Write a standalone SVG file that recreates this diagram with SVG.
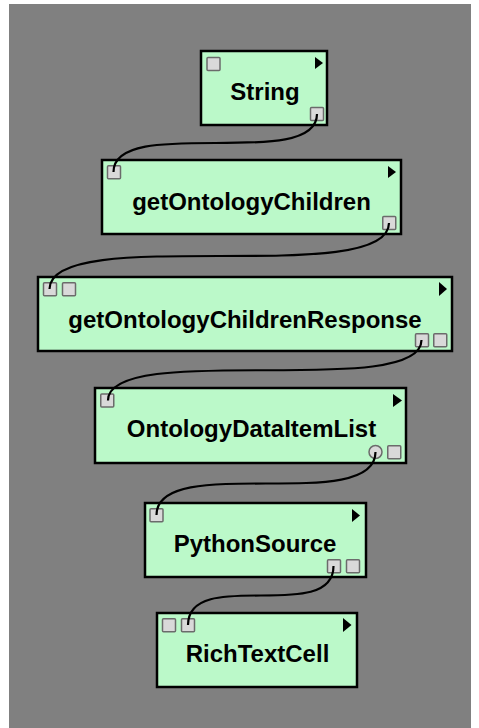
<svg xmlns="http://www.w3.org/2000/svg" width="479" height="728" viewBox="0 0 479 728">
<style>
.box{fill:#bbf9c9;stroke:#000;stroke-width:2.5}
.port{fill:#d9d9d9;stroke:#6b6b6b;stroke-width:1.5}
.tri{fill:#000}
.lbl{font-family:"Liberation Sans",Arial,sans-serif;font-weight:bold;font-size:24px;fill:#000;text-anchor:middle}
.wire{fill:none;stroke:#000;stroke-width:2.2}
</style>
<rect x="0" y="0" width="479" height="728" fill="#ffffff"/>
<rect x="9" y="4" width="462" height="724" fill="#808080"/>
<g id="node-String">
<rect class="box" x="201" y="51" width="126" height="74"/>
<rect class="port" x="207" y="57.5" width="13" height="13" rx="1"/>
<rect class="port" x="310.5" y="107.5" width="13" height="13" rx="1"/>
<polygon class="tri" points="315,57 323,63 315,69"/>
<text class="lbl" x="265" y="100">String</text>
</g>
<g id="node-getOntologyChildren">
<rect class="box" x="102" y="160" width="299" height="74"/>
<rect class="port" x="107.5" y="165.75" width="13" height="13" rx="1"/>
<rect class="port" x="382.75" y="216.5" width="13" height="13" rx="1"/>
<polygon class="tri" points="388,166 396,172 388,178"/>
<text class="lbl" x="251.5" y="210">getOntologyChildren</text>
</g>
<g id="node-getOntologyChildrenResponse">
<rect class="box" x="38" y="277" width="414" height="74"/>
<rect class="port" x="43.5" y="282.75" width="13" height="13" rx="1"/>
<rect class="port" x="62.5" y="282.75" width="13" height="13" rx="1"/>
<rect class="port" x="415.5" y="333.75" width="13" height="13" rx="1"/>
<rect class="port" x="433.75" y="333.75" width="13" height="13" rx="1"/>
<polygon class="tri" points="439,282 447,289 439,296"/>
<text class="lbl" x="245" y="327.5">getOntologyChildrenResponse</text>
</g>
<g id="node-OntologyDataItemList">
<rect class="box" x="95" y="388" width="311" height="75"/>
<rect class="port" x="100.75" y="394" width="13" height="13" rx="1"/>
<circle class="port" cx="375.5" cy="452" r="6.5"/>
<rect class="port" x="387.75" y="445.75" width="13" height="13" rx="1"/>
<polygon class="tri" points="393,394 402,400.5 393,407"/>
<text class="lbl" x="251.5" y="437">OntologyDataItemList</text>
</g>
<g id="node-PythonSource">
<rect class="box" x="145" y="503" width="221" height="74"/>
<rect class="port" x="150" y="508.75" width="13" height="13" rx="1"/>
<rect class="port" x="327.5" y="559.75" width="13" height="13" rx="1"/>
<rect class="port" x="346.5" y="559.75" width="13" height="13" rx="1"/>
<polygon class="tri" points="352,509 360,515.5 352,522"/>
<text class="lbl" x="255" y="551.5">PythonSource</text>
</g>
<g id="node-RichTextCell">
<rect class="box" x="157" y="613" width="200" height="74"/>
<rect class="port" x="162.5" y="618.75" width="13" height="13" rx="1"/>
<rect class="port" x="181.5" y="618.75" width="13" height="13" rx="1"/>
<polygon class="tri" points="343,618 351.5,625 343,632"/>
<text class="lbl" x="257.5" y="662">RichTextCell</text>
</g>
<g id="connectors">
<path class="wire" d="M317,114 C317,172 113.5,114 113.5,172"/>
<path class="wire" d="M389,223 C389,289 49.5,223 49.5,289"/>
<path class="wire" d="M421.5,340 C421.5,400.5 108,340 108,400.5"/>
<path class="wire" d="M375.5,452 C375.5,515 156.5,452 156.5,515"/>
<path class="wire" d="M333.5,566 C333.5,625 188,566 188,625"/>
</g>
</svg>
